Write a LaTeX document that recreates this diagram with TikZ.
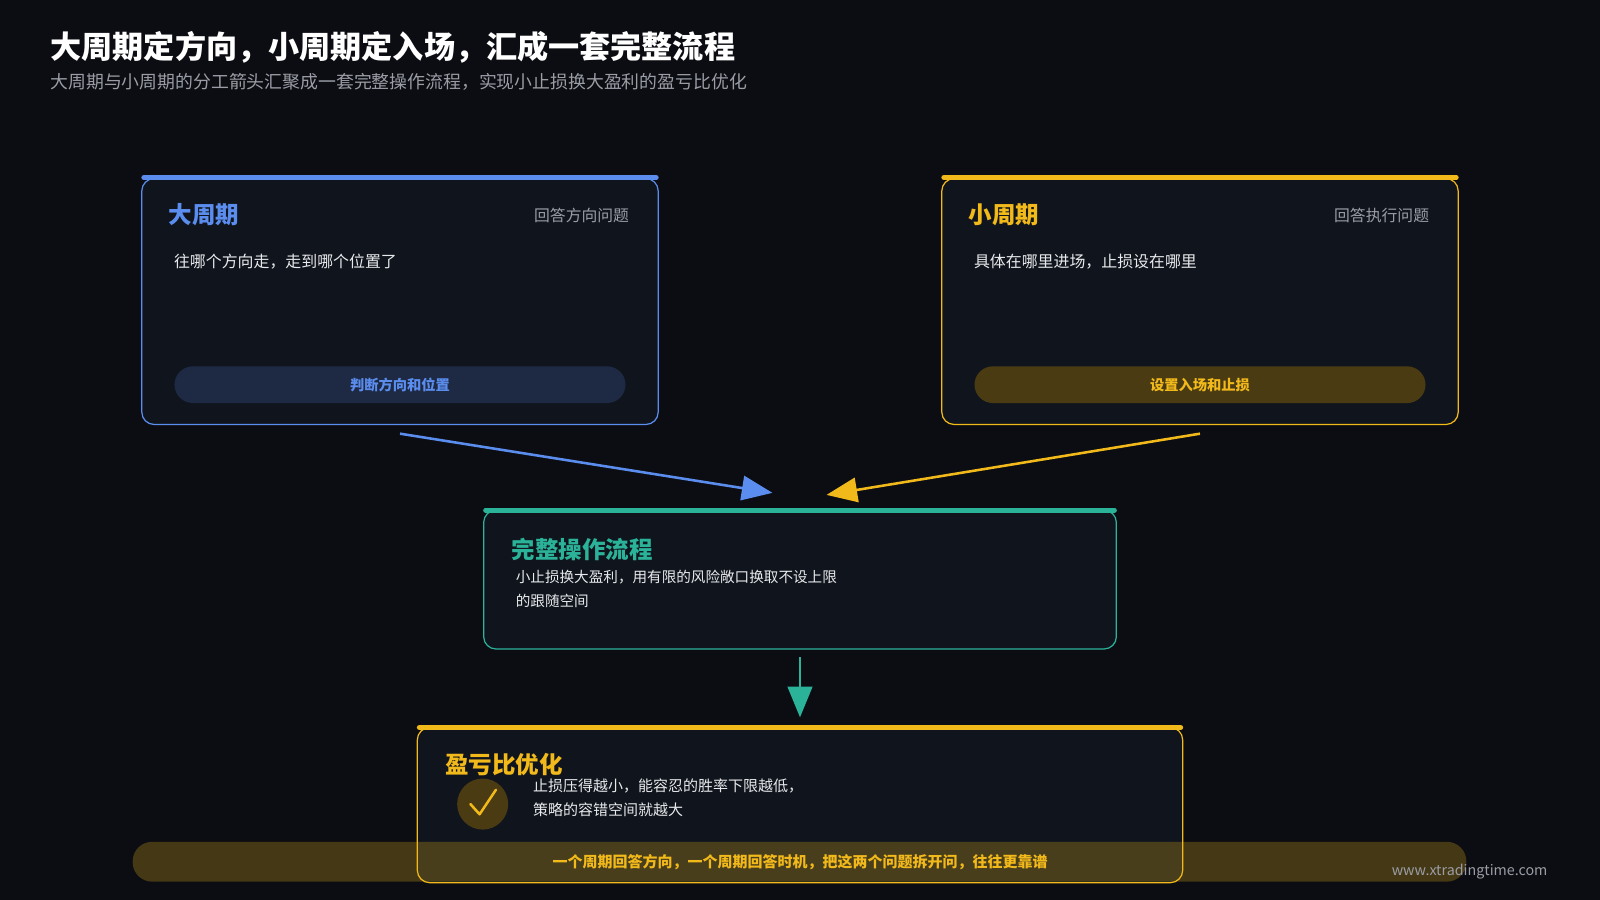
\documentclass[tikz,border=0pt]{standalone}
\usepackage{fontspec}
\setmainfont{Noto Sans CJK SC}
\usetikzlibrary{arrows.meta,calc}
\definecolor{bg}{HTML}{0C0D12}
\definecolor{card}{HTML}{10151D}
\definecolor{bl}{HTML}{5B8DEF}
\definecolor{yl}{HTML}{F2B91B}
\definecolor{tl}{HTML}{2BB39A}
\definecolor{gr}{HTML}{9A9DA6}
\definecolor{tx}{HTML}{E8E9EC}
\definecolor{pb}{HTML}{1E2A44}
\definecolor{py}{HTML}{4A3B12}
\tikzset{
 box/.style={draw=#1,line width=1.2pt,fill=card,rounded corners=12pt},
 bar/.style={draw=#1,line width=5pt,line cap=round},
 ttl/.style={anchor=west,font=\fontsize{23}{27}\selectfont\bfseries,text=#1},
 body/.style={anchor=west,font=\fontsize{15.6}{24}\selectfont,text=tx,align=left},
 tag/.style={anchor=east,font=\fontsize{15.5}{18}\selectfont,text=gr},
 pill/.style={fill=#1,rounded corners=18pt,minimum height=36pt,minimum width=442pt,inner sep=0pt},
 pt/.style={font=\fontsize{14}{16}\selectfont\bfseries,text=#1},
 arr/.style={draw=#1,line width=2.5pt,-{Triangle[length=30pt,width=24pt]}},
}
\begin{document}
\begin{tikzpicture}[x=1pt,y=-1pt]
\useasboundingbox[fill=bg] (0,0) rectangle (1568,882);
\node[anchor=west,font=\fontsize{30.5}{34}\selectfont\bfseries,text=white] (t) at (46,46) {大周期定方向，小周期定入场，汇成一套完整流程};
\node[anchor=west,font=\fontsize{17.5}{20}\selectfont,text=gr] (st) at (46,80) {大周期与小周期的分工箭头汇聚成一套完整操作流程，实现小止损换大盈利的盈亏比优化};
% big
\draw[box=bl] (139,175) rectangle (645,416);
\draw[bar=bl] (141,174) -- (643,174);
\node[ttl=bl] (a1) at (162,210) {大周期};
\node[tag] (a2) at (620,211) {回答方向问题};
\node[body] (a3) at (167,256) {往哪个方向走，走到哪个位置了};
\node[pill=pb] (ap) at (392,377) {};
\node[pt=bl] (apt) at (ap) {判断方向和位置};
% small
\draw[box=yl] (923,175) rectangle (1429,416);
\draw[bar=yl] (925,174) -- (1427,174);
\node[ttl=yl] (b1) at (946,210) {小周期};
\node[tag] (b2) at (1404,211) {回答执行问题};
\node[body] (b3) at (951,256) {具体在哪里进场，止损设在哪里};
\node[pill=py] (bp) at (1176,377) {};
\node[pt=yl] (bpt) at (bp) {设置入场和止损};
% center
\draw[box=tl] (474,500) rectangle (1094,636);
\draw[bar=tl] (476,500) -- (1092,500);
\node[ttl=tl] (c1) at (498,538) {完整操作流程};
\node[body,font=\fontsize{14.3}{23}\selectfont] (c2) at (502,577) {小止损换大盈利，用有限的风险敞口换取不设上限\\的跟随空间};
% bottom
\draw[box=yl] (409,713) rectangle (1159,865);
\draw[bar=yl] (411,713) -- (1157,713);
\node[ttl=yl] (d1) at (433,749) {盈亏比优化};
\node[circle,fill=py,minimum size=50pt,inner sep=0pt] (ck) at (473,788) {};
\draw[yl,line width=2.5pt,line cap=round,line join=round] ($(ck)+(-12,0)$) -- ($(ck)+(-3,10)$) -- ($(ck)+(13,-14)$);
\node[body,font=\fontsize{14.7}{24}\selectfont] (d2) at (519,782) {止损压得越小，能容忍的胜率下限越低，\\策略的容错空间就越大};
\fill[yl,opacity=0.25,rounded corners=19pt] (130,825) rectangle (1437,864);
\node[pt=yl,font=\fontsize{14.7}{16}\selectfont\bfseries] (bn) at (784,845) {一个周期回答方向，一个周期回答时机，把这两个问题拆开问，往往更靠谱};
\node[anchor=east,font=\fontsize{14}{16}\selectfont,text=gr] (w) at (1520,854) {www.xtradingtime.com};
% arrows
\coordinate (p1) at (392,425); \coordinate (q1) at (757,483);
\coordinate (p2) at (1176,425); \coordinate (q2) at (810,485);
\coordinate (p3) at (784,644); \coordinate (q3) at (784,703);
\draw[arr=bl] (p1) -- (q1);
\draw[arr=yl] (p2) -- (q2);
\draw[arr=tl] (p3) -- (q3);
\end{tikzpicture}
\end{document}
